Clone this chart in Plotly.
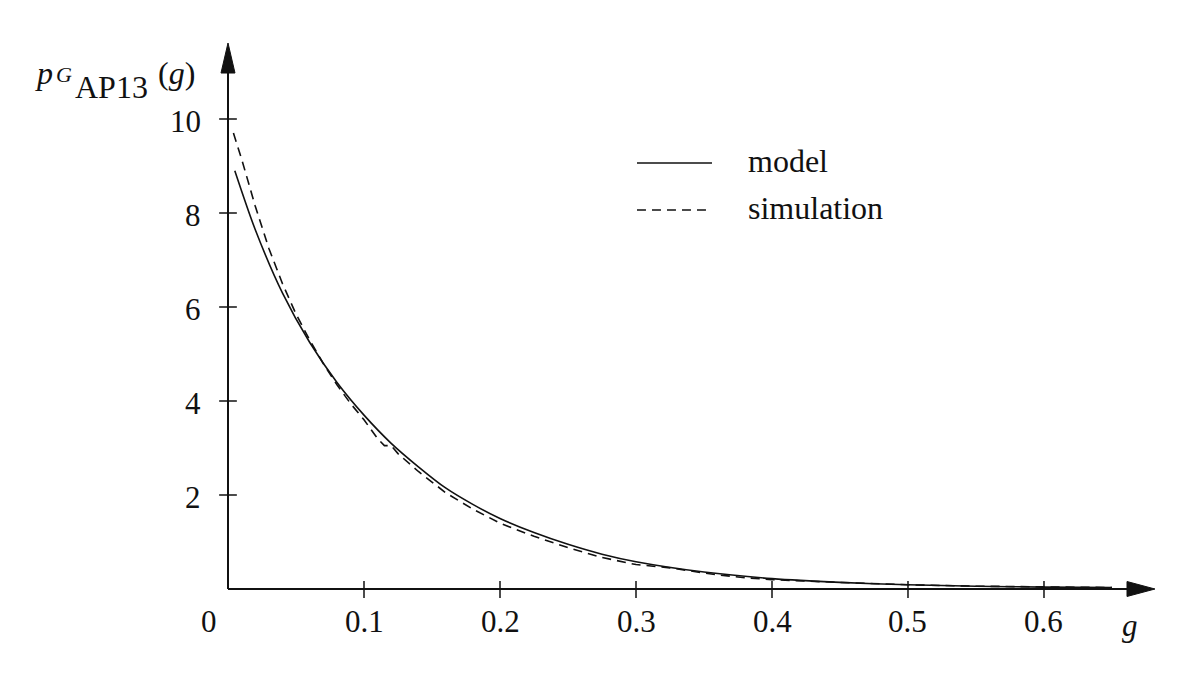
import plotly.graph_objects as go

# values
g_model = [0.005, 0.02, 0.04, 0.06, 0.08, 0.1, 0.12, 0.14, 0.16, 0.18, 0.2,
           0.225, 0.25, 0.275, 0.3, 0.35, 0.4, 0.45, 0.5, 0.55, 0.6, 0.65]
p_model = [8.9, 7.65, 6.3, 5.25, 4.4, 3.7, 3.1, 2.6, 2.15, 1.8, 1.5,
           1.2, 0.95, 0.74, 0.58, 0.36, 0.22, 0.14, 0.09, 0.06, 0.04, 0.03]

g_sim = [0.004, 0.01, 0.02, 0.03, 0.04, 0.05, 0.06, 0.07, 0.08, 0.09, 0.1,
         0.11, 0.115, 0.12, 0.125, 0.14, 0.16, 0.18, 0.2, 0.225, 0.25, 0.275,
         0.3, 0.325, 0.35, 0.36, 0.38, 0.4, 0.45, 0.5, 0.55, 0.6, 0.65]
p_sim = [9.7, 9.15, 8.15, 7.25, 6.5, 5.85, 5.3, 4.8, 4.35, 3.95, 3.6,
         3.2, 3.05, 3.05, 2.88, 2.5, 2.05, 1.7, 1.4, 1.12, 0.88, 0.67,
         0.52, 0.45, 0.34, 0.3, 0.24, 0.2, 0.14, 0.09, 0.06, 0.04, 0.03]

x_ticks = [0.1, 0.2, 0.3, 0.4, 0.5, 0.6]
x_tick_labels = ['0.1', '0.2', '0.3', '0.4', '0.5', '0.6']
y_ticks = [2, 4, 6, 8, 10]
y_tick_labels = ['2', '4', '6', '8', '10']

FONT = 'Liberation Serif'
INK = '#111111'
DASH = '9px,6px'

fig = go.Figure()

fig.add_trace(go.Scatter(x=g_model, y=p_model, mode='lines', name='model',
                         line=dict(color=INK, width=1.6, shape='spline', smoothing=0.8)))
fig.add_trace(go.Scatter(x=g_sim, y=p_sim, mode='lines', name='simulation',
                         line=dict(color=INK, width=1.6, dash=DASH)))

shapes = []
# axes with arrow heads (paper coordinates: plot area 932 x 546 px)
shapes.append(dict(type='line', xref='paper', yref='paper', x0=0, x1=0.965, y0=0, y1=0,
                   line=dict(color=INK, width=2)))
shapes.append(dict(type='line', xref='paper', yref='paper', x0=0, x1=0, y0=0, y1=0.945,
                   line=dict(color=INK, width=2)))
shapes.append(dict(type='path', xref='paper', yref='paper',
                   path='M 0.9646 0.0137 L 0.9946 0 L 0.9646 -0.0137 Z',
                   fillcolor=INK, line=dict(color=INK, width=1)))
shapes.append(dict(type='path', xref='paper', yref='paper',
                   path='M -0.0075 0.945 L 0 1 L 0.0075 0.945 Z',
                   fillcolor=INK, line=dict(color=INK, width=1)))
# tick marks crossing the axes
for t in x_ticks:
    shapes.append(dict(type='line', xref='x', yref='paper', x0=t, x1=t,
                       y0=-0.0165, y1=0.0145, line=dict(color=INK, width=1.5)))
for t in y_ticks:
    shapes.append(dict(type='line', xref='paper', yref='y', x0=-0.0095, x1=0.0095,
                       y0=t, y1=t, line=dict(color=INK, width=1.5)))
# legend samples
shapes.append(dict(type='line', xref='paper', yref='paper', x0=0.4388, x1=0.5193,
                   y0=0.7802, y1=0.7802, line=dict(color=INK, width=1.6)))
shapes.append(dict(type='line', xref='paper', yref='paper', x0=0.4388, x1=0.5193,
                   y0=0.6941, y1=0.6941, line=dict(color=INK, width=1.6, dash=DASH)))
for s in shapes:
    s['opacity'] = 1
    s['layer'] = 'above'

annotations = []
for t, lab in zip(x_ticks, x_tick_labels):
    annotations.append(dict(x=t, y=0, xref='x', yref='y', text=lab, showarrow=False,
                            xanchor='center', yanchor='middle', yshift=-32,
                            font=dict(family=FONT, size=31, color=INK)))
annotations.append(dict(x=0, y=0, xref='paper', yref='y', text='0', showarrow=False,
                        xanchor='center', yanchor='middle', xshift=-19, yshift=-32,
                        font=dict(family=FONT, size=31, color=INK)))
for t, lab in zip(y_ticks, y_tick_labels):
    annotations.append(dict(x=0, y=t, xref='paper', yref='y', text=lab, showarrow=False,
                            xanchor='right', yanchor='middle', xshift=-25, yshift=-2,
                            font=dict(family=FONT, size=31, color=INK)))
# axis titles
annotations.append(dict(x=0, y=0, xref='paper', yref='paper', text='<i>g</i>', showarrow=False,
                        xanchor='center', yanchor='middle', xshift=902, yshift=-36,
                        font=dict(family=FONT, size=31, color=INK)))
annotations.append(dict(x=0, y=1, xref='paper', yref='paper', text='<i>p</i>', showarrow=False,
                        xanchor='center', yanchor='middle', xshift=-184, yshift=-30,
                        font=dict(family=FONT, size=32, color=INK)))
annotations.append(dict(x=0, y=1, xref='paper', yref='paper', text='<i>G</i>', showarrow=False,
                        xanchor='center', yanchor='middle', xshift=-164, yshift=-31,
                        font=dict(family=FONT, size=22, color=INK)))
annotations.append(dict(x=0, y=1, xref='paper', yref='paper', text='AP13', showarrow=False,
                        xanchor='center', yanchor='middle', xshift=-117, yshift=-44,
                        font=dict(family=FONT, size=32, color=INK)))
annotations.append(dict(x=0, y=1, xref='paper', yref='paper', text='(<i>g</i>)', showarrow=False,
                        xanchor='center', yanchor='middle', xshift=-52, yshift=-30,
                        font=dict(family=FONT, size=32, color=INK)))
# legend labels
for name, yp in [('model', 0.7802), ('simulation', 0.6941)]:
    annotations.append(dict(x=0.5558, y=yp, xref='paper', yref='paper', text=name,
                            showarrow=False, xanchor='left', yanchor='middle', yshift=2,
                            font=dict(family=FONT, size=32, color=INK)))

# the page adds an 8px body margin, so the figure is 8px smaller than the window
fig.update_layout(
    width=1192,
    height=672,
    showlegend=False,
    margin=dict(l=220, r=40, t=35, b=91, autoexpand=False),
    plot_bgcolor='white',
    paper_bgcolor='white',
    xaxis=dict(range=[0, 0.6853], visible=False, fixedrange=True),
    yaxis=dict(range=[0, 11.617], visible=False, fixedrange=True),
    shapes=shapes,
    annotations=annotations,
)

fig.write_html("out.html")
